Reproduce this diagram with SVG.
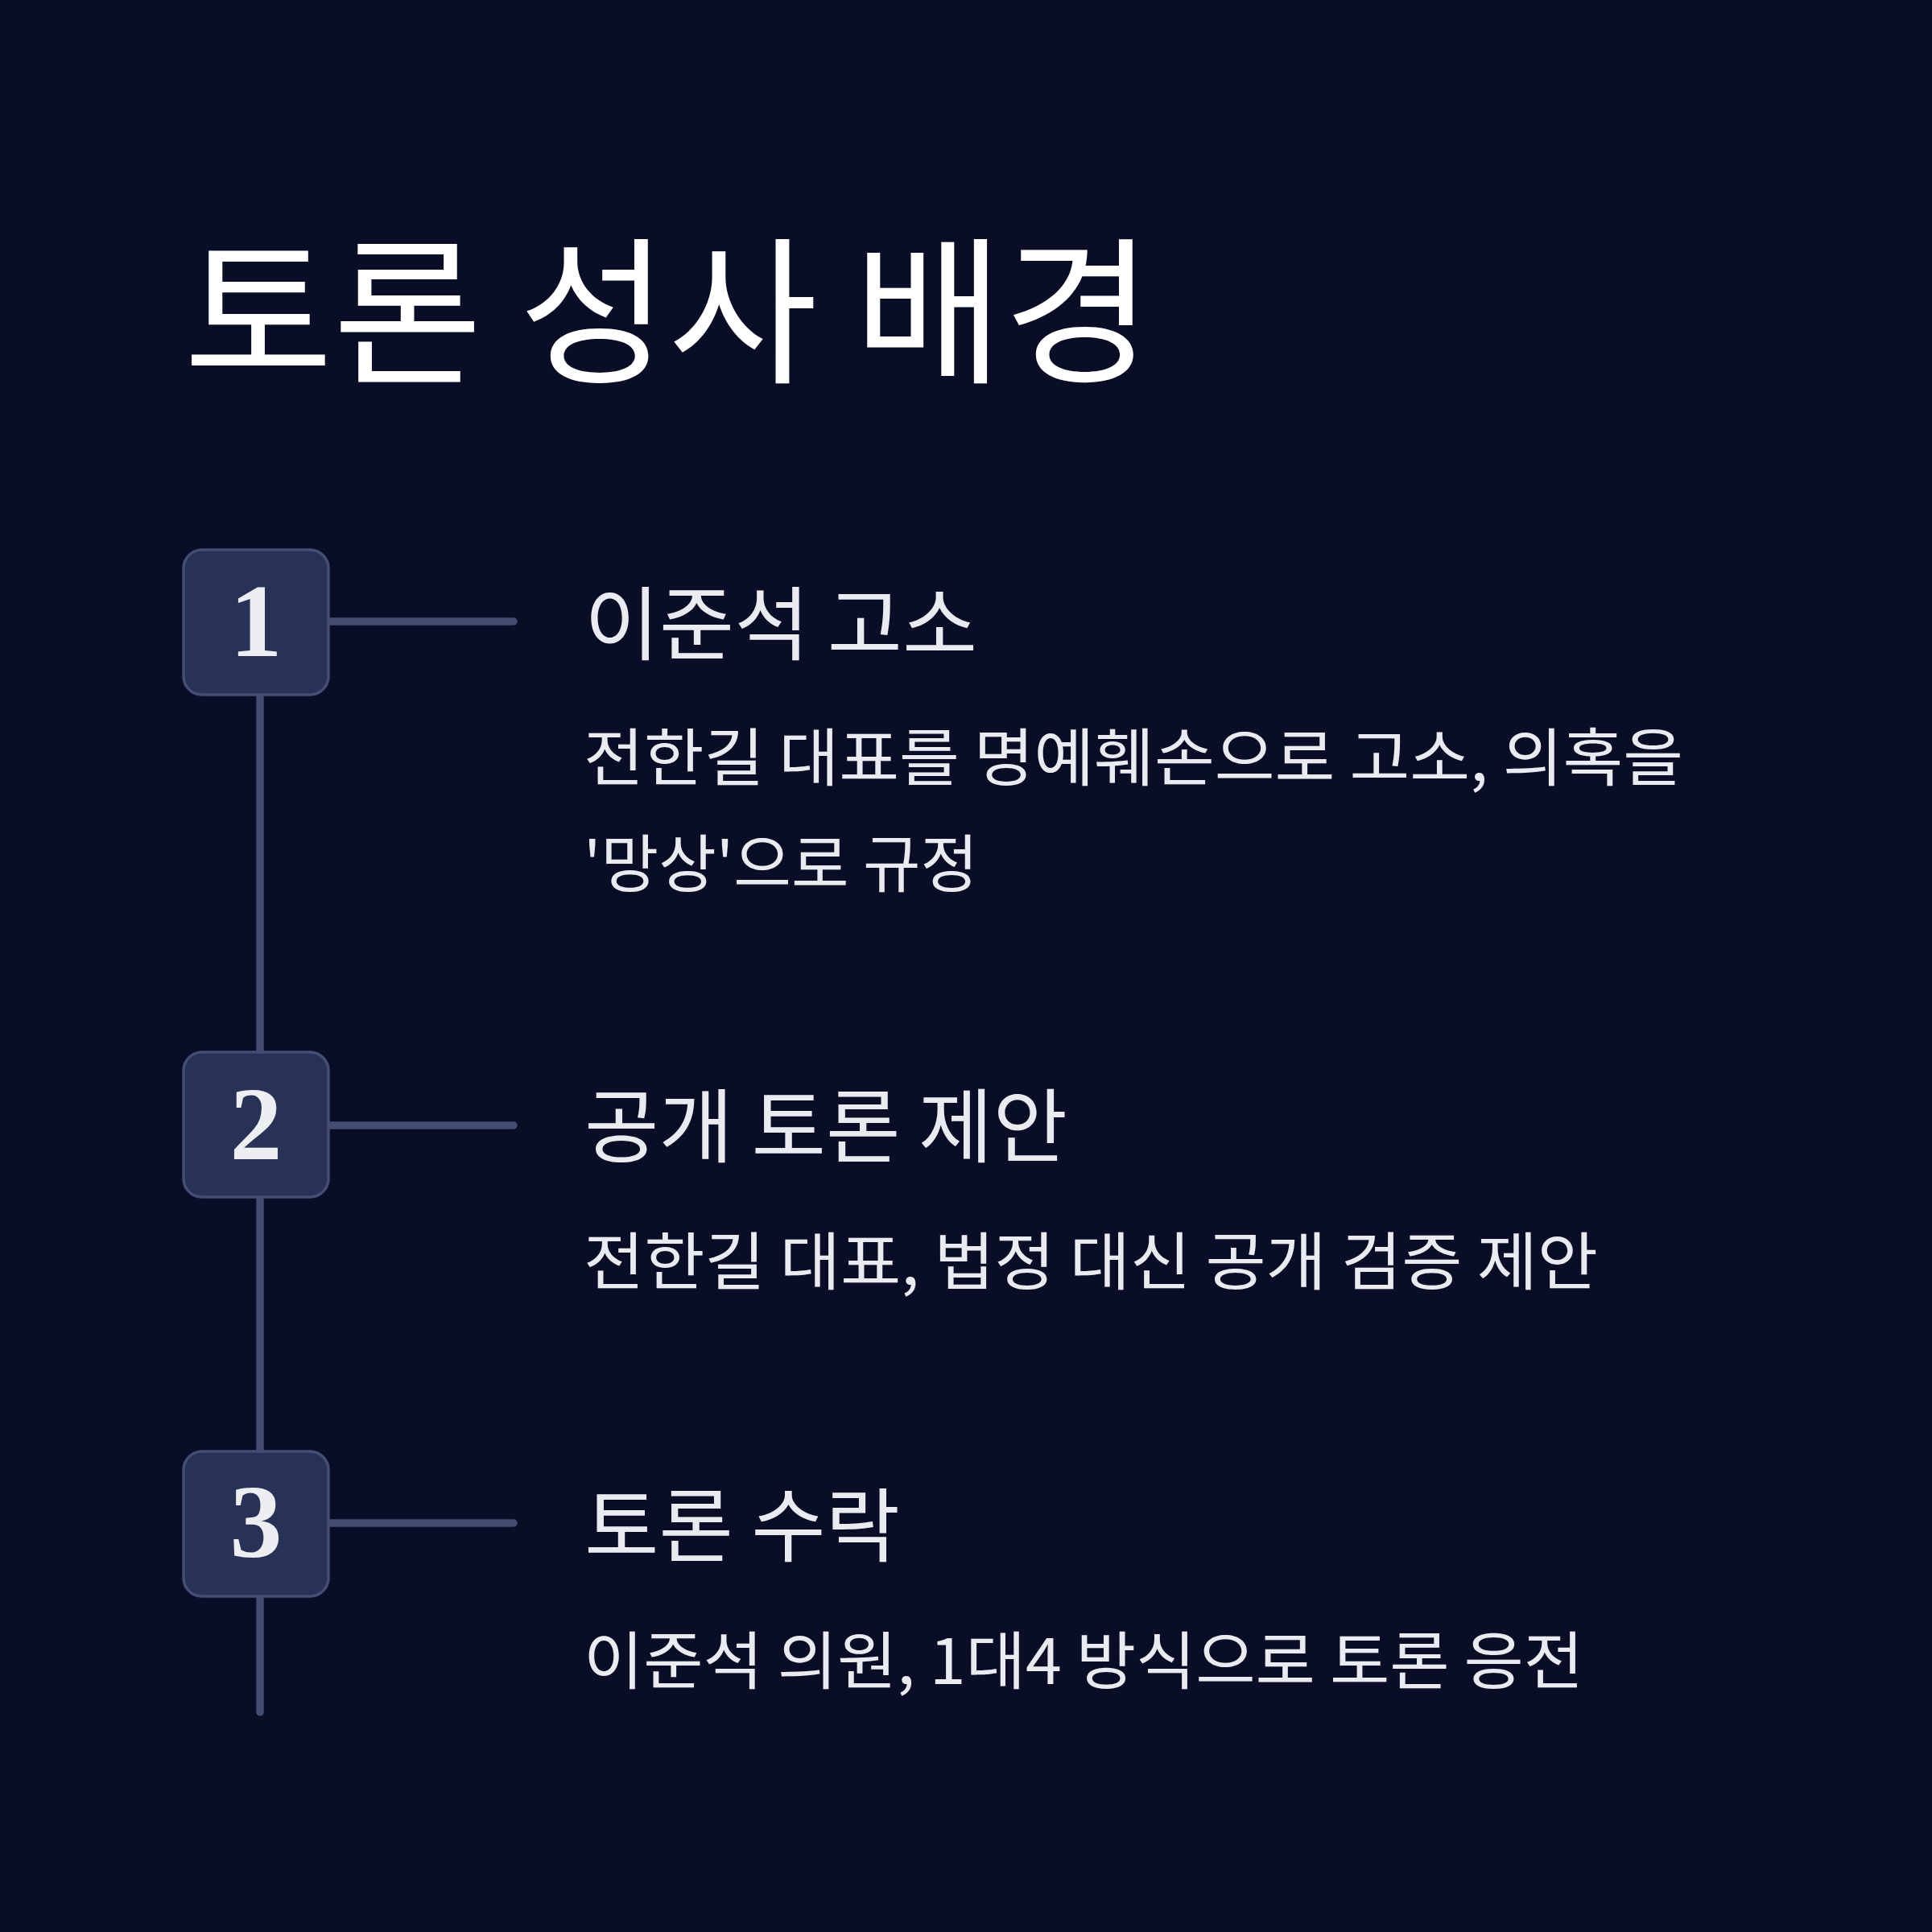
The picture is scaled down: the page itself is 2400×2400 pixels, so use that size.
<svg xmlns="http://www.w3.org/2000/svg" width="2400" height="2400" viewBox="0 0 2400 2400">
<style>
.title{font-family:"Noto Sans CJK KR","Noto Sans",sans-serif;font-size:197px;fill:#ffffff;font-weight:400}
.head{font-family:"Noto Sans CJK KR","Noto Sans",sans-serif;font-size:100px;fill:#e9ebf1;font-weight:400}
.body{font-family:"Noto Sans CJK KR","Noto Sans",sans-serif;font-size:78px;fill:#e9ebf1;font-weight:400}
.box{fill:#283257;stroke:#434e75;stroke-width:3.5}
.num{font-family:"Liberation Serif","DejaVu Serif",serif;font-size:130px;font-weight:700;fill:#eceef2;text-anchor:middle}
.line{stroke:#434d73;stroke-width:9.5;stroke-linecap:round;fill:none}
</style>
<rect width="2400" height="2400" fill="#090e26"/>
<text class="title" x="228" y="460" textLength="1204" lengthAdjust="spacingAndGlyphs">토론 성사 배경</text>
<g id="connectors">
<line class="line" x1="323" y1="790" x2="323" y2="2127"/>
<line class="line" x1="400" y1="772" x2="638" y2="772"/>
<line class="line" x1="400" y1="1398" x2="638" y2="1398"/>
<line class="line" x1="400" y1="1892" x2="638" y2="1892"/>
</g>
<g id="step1">
<rect class="box" x="228" y="683" width="180" height="180" rx="23"/>
<text class="num" x="318" y="815">1</text>
<text class="head" x="726" y="812" textLength="488" lengthAdjust="spacingAndGlyphs">이준석 고소</text>
<text class="body" x="725" y="970" textLength="1366" lengthAdjust="spacingAndGlyphs">전한길 대표를 명예훼손으로 고소, 의혹을</text>
<text class="body" x="725" y="1102" textLength="490" lengthAdjust="spacingAndGlyphs">'망상'으로 규정</text>
</g>
<g id="step2">
<rect class="box" x="228" y="1307" width="180" height="180" rx="23"/>
<text class="num" x="318" y="1440">2</text>
<text class="head" x="726" y="1436" textLength="600" lengthAdjust="spacingAndGlyphs">공개 토론 제안</text>
<text class="body" x="725" y="1596" textLength="1260" lengthAdjust="spacingAndGlyphs">전한길 대표, 법정 대신 공개 검증 제안</text>
</g>
<g id="step3">
<rect class="box" x="228" y="1803" width="180" height="180" rx="23"/>
<text class="num" x="318" y="1934">3</text>
<text class="head" x="726" y="1932" textLength="392" lengthAdjust="spacingAndGlyphs">토론 수락</text>
<text class="body" x="725" y="2092" textLength="1242" lengthAdjust="spacingAndGlyphs">이준석 의원, 1대4 방식으로 토론 응전</text>
</g>
</svg>
